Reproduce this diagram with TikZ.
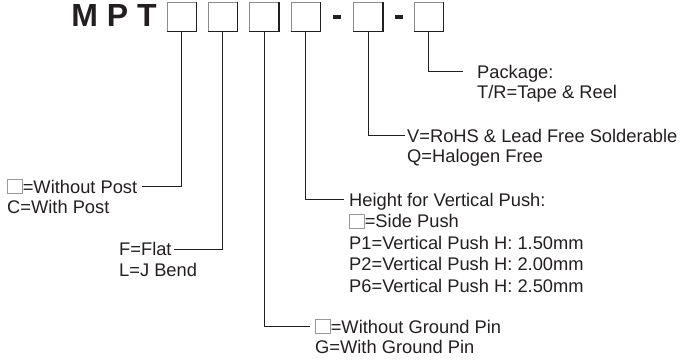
\documentclass[tikz,border=0pt]{standalone}
\usepackage{fontspec}
\setmainfont{Liberation Sans}
\usetikzlibrary{positioning}
\definecolor{ink}{HTML}{231F20}
% small empty code box used inside the texts
\newcommand{\blankbox}{{\color{black!40}\fboxrule=0.8pt\fboxsep=0pt\fbox{\rule{0pt}{13pt}\hspace{14pt}}}}

\begin{document}
\begin{tikzpicture}[
  x=1pt, y=-1pt,
  slot/.style={draw=black!45, line width=0.8pt, minimum width=29pt, minimum height=29pt, inner sep=0pt},
  slotshade/.style={draw=ink, line width=1.3pt},
  bar/.style={fill=ink, minimum width=8pt, minimum height=4pt, inner sep=0pt},
  lbl/.style={anchor=west, inner sep=0pt, text height=13.2pt, text depth=0pt, font=\fontsize{18.3}{20}\selectfont, text=ink},
  nextline/.style={below right=6.8pt and 0pt of #1.south west},
  wideline/.style={below right=8pt and 0pt of #1.south west},
  lead/.style={draw=ink, line width=0.9pt}]
\useasboundingbox (0,0) rectangle (683,360);

% part number
\node[anchor=base east, inner sep=0pt, text=ink, font=\fontsize{32}{32}\selectfont\bfseries] (mpt) at (157,26) {M P T};
\node[slot] (b1) at (181.5,16.5) {};
\node[slot, right=11.5pt of b1] (b2) {};
\node[slot, right=11.5pt of b2] (b3) {};
\node[slot, right=12pt of b3] (b4) {};
\node[bar, right=12pt of b4] (d1) {};
\node[slot, right=12pt of d1] (b5) {};
\node[bar, right=12pt of b5] (d2) {};
\node[slot, right=10.5pt of d2] (b6) {};
\foreach \i in {1,...,6}
  \draw[slotshade] (b\i.south west) -| (b\i.north east);

% package
\node[lbl] (pkg1) at (477,71.5) {Package:};
\node[lbl, nextline=pkg1] (pkg2) {T/R=Tape \& Reel};

% finish
\node[lbl] (rohs1) at (407,135.5) {V=RoHS \& Lead Free Solderable};
\node[lbl, nextline=rohs1] (rohs2) {Q=Halogen Free};

% push height
\node[lbl] (hgt1) at (349,199.5) {Height for Vertical Push:};
\node[lbl, wideline=hgt1] (hgt2) {\blankbox=Side Push};
\node[lbl, wideline=hgt2] (hgt3) {P1=Vertical Push H: 1.50mm};
\node[lbl, wideline=hgt3] (hgt4) {P2=Vertical Push H: 2.00mm};
\node[lbl, wideline=hgt4] (hgt5) {P6=Vertical Push H: 2.50mm};

% ground pin
\node[lbl] (gnd1) at (315,326.5) {\blankbox=Without Ground Pin};
\node[lbl, nextline=gnd1] (gnd2) {G=With Ground Pin};

% terminal
\node[lbl] (flat1) at (119,249) {F=Flat};
\node[lbl, nextline=flat1] (flat2) {L=J Bend};

% post
\node[lbl] (post1) at (7,186.5) {\blankbox=Without Post};
\node[lbl, nextline=post1] (post2) {C=With Post};

\draw[lead] (b6.south) |- ([xshift=-14pt]pkg1.west);
\draw[lead] (b5.south) |- ([xshift=-2pt]rohs1.west);
\draw[lead] (b4.south) |- ([xshift=-5pt]hgt1.west);
\draw[lead] (b3.south) |- ([xshift=-5pt]gnd1.west);
\draw[lead] (b2.south) |- ([xshift=2pt]flat1.east);
\draw[lead] (b1.south) |- ([xshift=5pt]post1.east);
\end{tikzpicture}
\end{document}
